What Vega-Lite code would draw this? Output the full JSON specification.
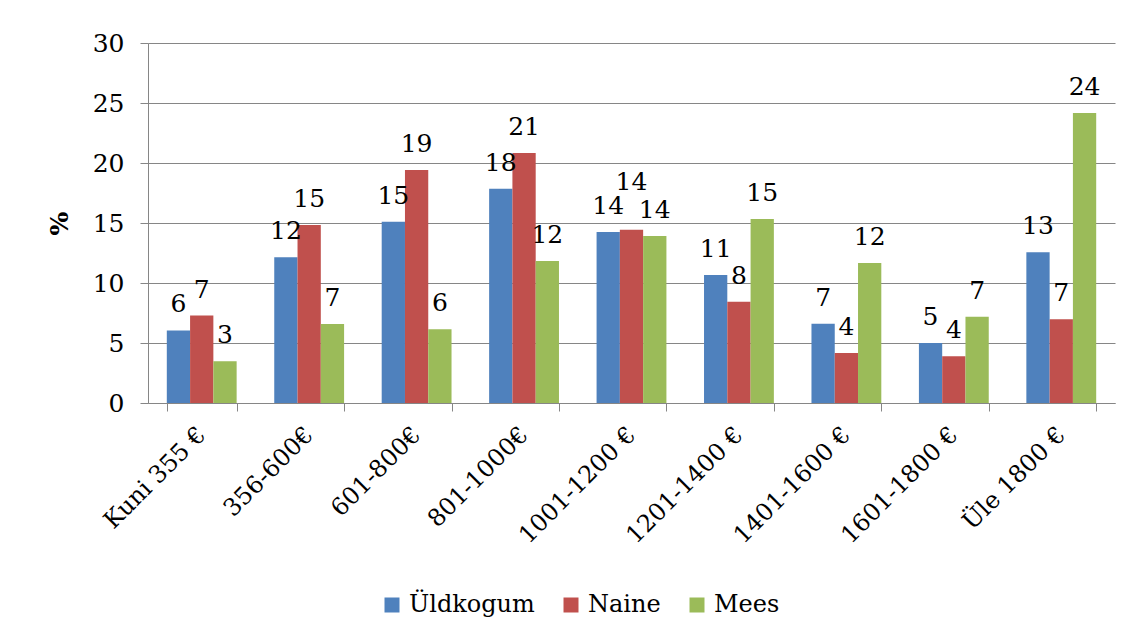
{
  "$schema": "https://vega.github.io/schema/vega-lite/v6.json",
  "width": 967,
  "height": 360,
  "autosize": {"type": "none"},
  "padding": {"left": 148, "top": 43, "right": 18, "bottom": 233},
  "background": "white",
  "config": {
    "font": "DejaVu Serif",
    "view": {"stroke": null},
    "axis": {
      "labelFont": "DejaVu Serif",
      "titleFont": "DejaVu Serif",
      "labelColor": "#000000",
      "titleColor": "#000000",
      "domainColor": "#868686",
      "tickColor": "#868686",
      "gridColor": "#868686",
      "labelFontSize": 25,
      "titleFontSize": 25
    },
    "legend": {
      "labelFont": "DejaVu Serif",
      "labelFontSize": 24,
      "labelColor": "#000000"
    }
  },
  "data": {
    "values": [
      {"kat": "Kuni 355 €", "grupp": "Üldkogum", "vaartus": 6.05},
      {"kat": "Kuni 355 €", "grupp": "Naine", "vaartus": 7.29},
      {"kat": "Kuni 355 €", "grupp": "Mees", "vaartus": 3.48},
      {"kat": "356-600€", "grupp": "Üldkogum", "vaartus": 12.14},
      {"kat": "356-600€", "grupp": "Naine", "vaartus": 14.83},
      {"kat": "356-600€", "grupp": "Mees", "vaartus": 6.58},
      {"kat": "601-800€", "grupp": "Üldkogum", "vaartus": 15.11},
      {"kat": "601-800€", "grupp": "Naine", "vaartus": 19.42},
      {"kat": "601-800€", "grupp": "Mees", "vaartus": 6.14},
      {"kat": "801-1000€", "grupp": "Üldkogum", "vaartus": 17.86},
      {"kat": "801-1000€", "grupp": "Naine", "vaartus": 20.83},
      {"kat": "801-1000€", "grupp": "Mees", "vaartus": 11.83},
      {"kat": "1001-1200 €", "grupp": "Üldkogum", "vaartus": 14.25},
      {"kat": "1001-1200 €", "grupp": "Naine", "vaartus": 14.44},
      {"kat": "1001-1200 €", "grupp": "Mees", "vaartus": 13.92},
      {"kat": "1201-1400 €", "grupp": "Üldkogum", "vaartus": 10.67},
      {"kat": "1201-1400 €", "grupp": "Naine", "vaartus": 8.44},
      {"kat": "1201-1400 €", "grupp": "Mees", "vaartus": 15.33},
      {"kat": "1401-1600 €", "grupp": "Üldkogum", "vaartus": 6.61},
      {"kat": "1401-1600 €", "grupp": "Naine", "vaartus": 4.17},
      {"kat": "1401-1600 €", "grupp": "Mees", "vaartus": 11.67},
      {"kat": "1601-1800 €", "grupp": "Üldkogum", "vaartus": 5.0},
      {"kat": "1601-1800 €", "grupp": "Naine", "vaartus": 3.89},
      {"kat": "1601-1800 €", "grupp": "Mees", "vaartus": 7.19},
      {"kat": "Üle 1800 €", "grupp": "Üldkogum", "vaartus": 12.56},
      {"kat": "Üle 1800 €", "grupp": "Naine", "vaartus": 6.97},
      {"kat": "Üle 1800 €", "grupp": "Mees", "vaartus": 24.17}
    ]
  },
  "encoding": {
    "x": {
      "field": "kat",
      "type": "nominal",
      "sort": ["Kuni 355 €", "356-600€", "601-800€", "801-1000€", "1001-1200 €", "1201-1400 €", "1401-1600 €", "1601-1800 €", "Üle 1800 €"],
      "scale": {"paddingInner": 0.35, "paddingOuter": 0.175},
      "axis": {
        "title": null,
        "labelFontSize": 24,
        "labelAngle": -45,
        "labelAlign": "right",
        "labelBaseline": "middle",
        "labelPadding": 20,
        "tickBand": "extent",
        "tickSize": 8,
        "domainColor": "#868686",
        "grid": false
      }
    },
    "xOffset": {
      "field": "grupp",
      "type": "nominal",
      "sort": ["Üldkogum", "Naine", "Mees"],
      "scale": {"paddingInner": 0, "paddingOuter": 0}
    },
    "y": {
      "field": "vaartus",
      "type": "quantitative",
      "scale": {"domain": [0, 30], "nice": false},
      "axis": {
        "title": "%",
        "titleFontWeight": "bold",
        "titlePadding": 20,
        "values": [0, 5, 10, 15, 20, 25, 30],
        "tickSize": 8,
        "labelPadding": 16,
        "grid": true
      }
    }
  },
  "layer": [
    {
      "mark": {"type": "bar"},
      "encoding": {
        "color": {
          "field": "grupp",
          "type": "nominal",
          "sort": ["Üldkogum", "Naine", "Mees"],
          "scale": {"domain": ["Üldkogum", "Naine", "Mees"], "range": ["#4F81BD", "#C0504D", "#9BBB59"]},
          "legend": {
            "title": null,
            "orient": "none",
            "legendX": 232,
            "legendY": 550,
            "direction": "horizontal",
            "symbolType": "square",
            "symbolSize": 225,
            "symbolStrokeWidth": 0,
            "labelOffset": 5,
            "columnPadding": 24
          }
        }
      }
    },
    {
      "transform": [{"filter": "!(datum.kat == '1001-1200 €' && datum.grupp == 'Naine')"}],
      "mark": {"type": "text", "dy": -26, "fontSize": 25, "font": "DejaVu Serif", "color": "#000000", "baseline": "middle"},
      "encoding": {"text": {"field": "vaartus", "type": "quantitative", "format": ".0f"}}
    },
    {
      "transform": [{"filter": "datum.kat == '1001-1200 €' && datum.grupp == 'Naine'"}],
      "mark": {"type": "text", "dy": -48, "fontSize": 25, "font": "DejaVu Serif", "color": "#000000", "baseline": "middle"},
      "encoding": {"text": {"field": "vaartus", "type": "quantitative", "format": ".0f"}}
    }
  ]
}
